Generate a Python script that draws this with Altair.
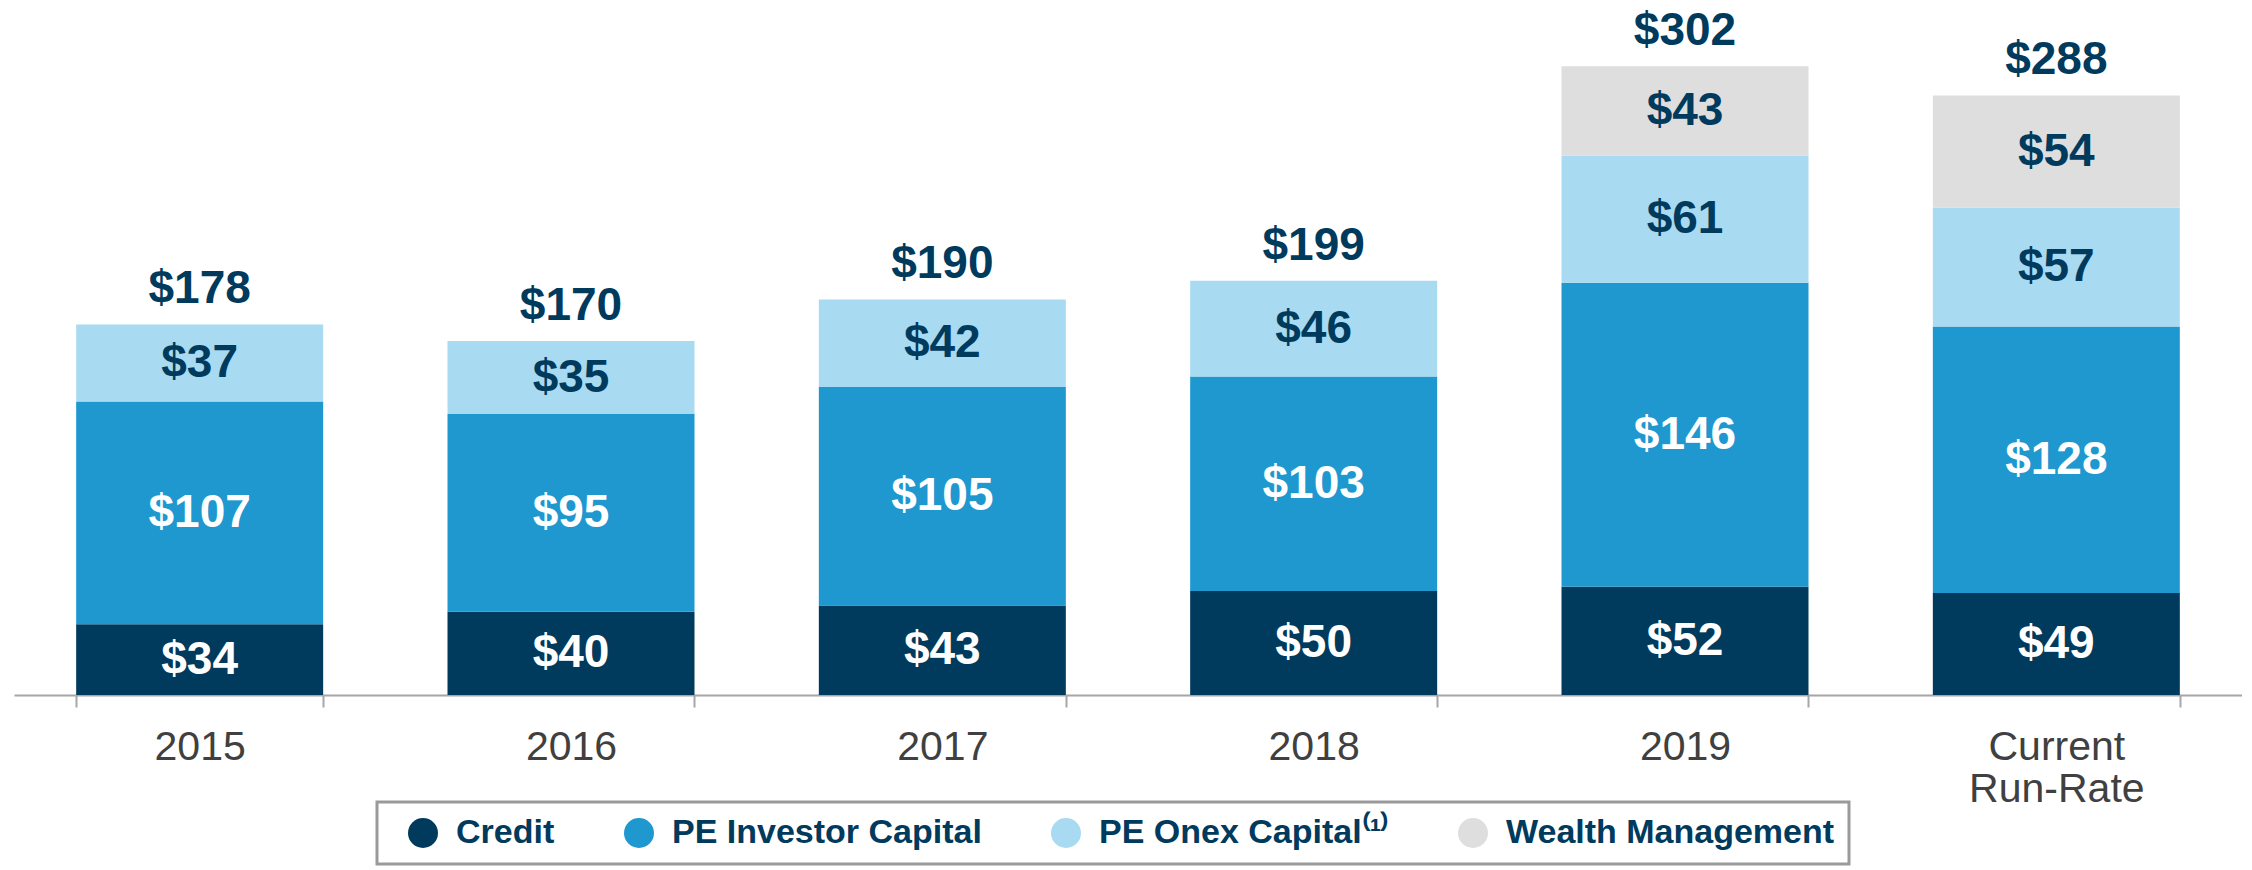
import altair as alt
import pandas as pd

categories = ["2015", "2016", "2017", "2018", "2019", "Current Run-Rate"]
series = ["Credit", "PE Investor Capital", "PE Onex Capital⁽¹⁾", "Wealth Management"]
credit = [34, 40, 43, 50, 52, 49]
pe_investor = [107, 95, 105, 103, 146, 128]
pe_onex = [37, 35, 42, 46, 61, 57]
wealth = [None, None, None, None, 43, 54]
colors = ["#003A5D", "#1E98CF", "#A8DAF2", "#DEDEDE"]

NAVY = "#003A5D"
FONT = "Liberation Sans, Arial, sans-serif"

rows = []
for s_idx, (name, vals) in enumerate(zip(series, [credit, pe_investor, pe_onex, wealth])):
    for c, v in zip(categories, vals):
        if v is None:
            continue
        rows.append({"cat": c, "series": name, "idx": s_idx, "value": v})
df = pd.DataFrame(rows)

x_enc = alt.X(
    "cat:N",
    sort=categories,
    scale=alt.Scale(paddingInner=0.335, paddingOuter=0.1675),
    axis=alt.Axis(
        title=None,
        labelAngle=0,
        tickBand="extent",
        grid=False,
        domainColor="#A6A6A6",
        domainWidth=2,
        tickColor="#A6A6A6",
        tickWidth=2,
        tickSize=12,
        labelFont=FONT,
        labelFontSize=41,
        labelColor="#404040",
        labelPadding=20,
        labelLineHeight=42,
        labelExpr="datum.label == 'Current Run-Rate' ? ['Current', 'Run-Rate'] : datum.label",
    ),
)
y_scale = alt.Scale(domain=[0, 330])

base = alt.Chart(df)

bars = base.mark_bar(size=247).encode(
    x=x_enc,
    y=alt.Y("sum(value):Q", scale=y_scale, axis=None),
    color=alt.Color(
        "series:N",
        sort=series,
        scale=alt.Scale(domain=series, range=colors),
        legend=alt.Legend(
            title=None,
            orient="none",
            direction="horizontal",
            legendX=363,
            legendY=794,
            symbolType="circle",
            symbolSize=900,
            symbolStrokeWidth=0,
            symbolOpacity=1,
            labelFont=FONT,
            labelFontSize=34,
            labelFontWeight="bold",
            labelColor=NAVY,
            labelOffset=16,
            labelLimit=600,
            columnPadding=52,
            padding=14,
            symbolOffset=15,
            strokeColor="#9A9A9A",
            fillColor="white",
        ),
    ),
    order=alt.Order("idx:Q", sort="ascending"),
)

seg_labels = base.transform_stack(
    stack="value", groupby=["cat"], sort=[alt.SortField("idx", order="ascending")], as_=["y0", "y1"]
).transform_calculate(
    mid="(datum.y0 + datum.y1) / 2", label="'$' + datum.value"
).mark_text(
    font=FONT, fontSize=46, fontWeight="bold", baseline="middle", align="center"
).encode(
    x=alt.X("cat:N", sort=categories),
    y=alt.Y("mid:Q", scale=y_scale, axis=None),
    text="label:N",
    color=alt.condition("datum.idx < 2", alt.value("white"), alt.value(NAVY)),
)

totals = base.transform_aggregate(
    total="sum(value)", groupby=["cat"]
).transform_calculate(
    label="'$' + datum.total"
).mark_text(
    font=FONT, fontSize=46, fontWeight="bold", baseline="middle", align="center", dy=-35, color=NAVY
).encode(
    x=alt.X("cat:N", sort=categories),
    y=alt.Y("total:Q", scale=y_scale, axis=None),
    text="label:N",
)

chart = (
    alt.layer(bars, seg_labels, totals)
    .properties(
        width=2228,
        height=687,
        background="white",
        padding={"left": 6, "top": 0, "right": 0, "bottom": 0},
    )
    .configure_view(strokeWidth=0, stroke="transparent")
    .configure_legend(strokeWidth=3)
    .configure_axisY(domain=False, ticks=False, labels=False, grid=False)
    .configure_axisX(grid=False)
)

chart.save("out.html", embed_options={"renderer": "svg", "actions": False})
